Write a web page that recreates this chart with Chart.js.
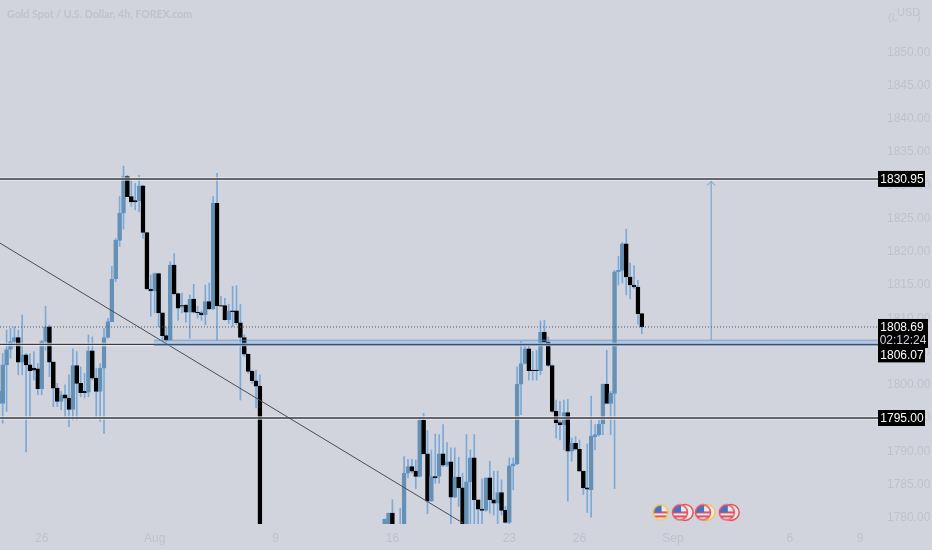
<!DOCTYPE html>
<html>
<head>
<meta charset="utf-8">
<title>Gold Spot / U.S. Dollar, 4h</title>
<script src="https://cdn.jsdelivr.net/npm/chart.js@4"></script>
<style>
    html, body { margin: 0; padding: 0; background: #d1d4dc; overflow: hidden; }
    canvas { display: block; }
</style>
</head>
<body>
<canvas id="goldChart" width="932" height="550"></canvas>
<script>
// candle values by 4h slot, slots 68-98 sit below the visible range
const opens = [
    1797.2, 1797.2, 1803, 1805.3, 1806.5, 1807.1, 1803.4, 1804.5, 1803, 1802.5,
    1802.4, 1799.4, 1806.5, 1808.7, 1803.4, 1799.5, 1797.5, 1798.5, 1798, 1796.3,
    1802.9, 1800.2, 1799, 1798.9, 1805.1, 1801, 1799, 1802.5, 1807.1, 1809.5,
    1815.9, 1821.7, 1825.8, 1831.3, 1828.3, 1827.7, 1827.7, 1829.9, 1822.9, 1814.4,
    1814.1, 1816.7, 1810.8, 1807.4, 1806.7, 1818, 1813.7, 1811.9, 1812, 1810.9,
    1812.9, 1810.9, 1810.8, 1810.5, 1812.5, 1811.4, 1827.3, 1811.9, 1811.9, 1809.8,
    1811.1, 1811.1, 1809.3, 1807.1, 1804.6, 1802, 1800.6, 1799.8,
    null, null, null, null, null, null, null, null, null, null,
    null, null, null, null, null, null, null, null, null, null,
    null, null, null, null, null, null, null, null, null, null, null,
    1778, 1778, 1780.7, null, 1777, 1778.5, 1786.7, 1787.7, 1787, 1786.2,
    1794.7, 1789.6, 1782.5, 1786.2, 1786.2, 1789.6, 1787.9, 1788.4, 1783.1, 1786.1,
    1784.5, 1778.5, 1785.4, 1789, 1782.7, 1781.3, 1781.1, 1786, 1782.7, 1782.2,
    1783.8, 1781.1, 1779.3, 1787.8, 1788.1, 1800.1, 1803.2, 1805.4, 1802.2, 1802.2,
    1802.1, 1807.9, 1806.4, 1802.9, 1796, 1794.3, 1794, 1795.8, 1790, 1791.2,
    1790.3, 1787, 1784.5, 1784.2, 1792.2, 1792.5, 1794.1, 1800.1, 1797.2, 1798.7,
    1817, 1817.2, 1821.2, 1816.2, 1815, 1814.7, 1810.7
];
const closes = [
    1799, 1803, 1805.3, 1806.5, 1807.1, 1803.4, 1804.5, 1803, 1802.1, 1802.2,
    1799.4, 1806.5, 1808.7, 1803.4, 1799.5, 1797.5, 1798.5, 1798, 1796.3, 1802.9,
    1800.2, 1798.8, 1798.8, 1805.1, 1801, 1799, 1802.5, 1807.1, 1809.5, 1815.9,
    1821.7, 1825.8, 1831.3, 1828.3, 1827.5, 1827.5, 1829.9, 1822.9, 1814.4, 1814.1,
    1816.7, 1810.8, 1807.4, 1806.7, 1818, 1813.7, 1811.5, 1811.8, 1810.9, 1812.9,
    1810.9, 1810.8, 1810.5, 1812.5, 1811.4, 1827.3, 1811.9, 1811.8, 1809.8, 1811.1,
    1811, 1809.3, 1807.1, 1804.6, 1802, 1800.6, 1799.8, 1772,
    null, null, null, null, null, null, null, null, null, null,
    null, null, null, null, null, null, null, null, null, null,
    null, null, null, null, null, null, null, null, null, null, null,
    1779.8, 1780.7, 1778, null, 1778, 1786.7, 1787.7, 1787, 1786.2, 1794.7,
    1789.6, 1782.5, 1786.2, 1786, 1789.6, 1787.9, 1788.4, 1783.1, 1786.1, 1784.5,
    1778, 1785.4, 1789, 1782.7, 1781.3, 1781.1, 1786, 1782.7, 1782.2, 1783.8,
    1781.1, 1779.3, 1787.8, 1788.1, 1800.1, 1803.2, 1805.4, 1802.1, 1802.1, 1802.1,
    1807.9, 1806.4, 1802.9, 1796, 1794.3, 1794, 1795.8, 1790, 1791.2, 1790.3,
    1787, 1784.5, 1784.3, 1792.3, 1792.5, 1794.1, 1800.1, 1797.2, 1798.7, 1817,
    1817.2, 1821.2, 1816.2, 1815, 1814.7, 1810.7, 1808.69
];
const highs = [
    1800, 1804.7, 1808.2, 1808.5, 1808.7, 1808.2, 1810.5, 1804.7, 1804.7, 1805,
    1803.2, 1806.7, 1811.8, 1809, 1803.5, 1800.2, 1799, 1800, 1801.5, 1805.4,
    1805, 1802.7, 1801.7, 1807.5, 1807.2, 1802.5, 1803.2, 1808.5, 1810, 1817.8,
    1822, 1828.3, 1832.9, 1831.5, 1831, 1830.3, 1831.5, 1830, 1822.9, 1816.5,
    1816.8, 1816.8, 1810.8, 1808.7, 1818.5, 1819.7, 1813.8, 1813.8, 1812.1, 1813.5,
    1815.1, 1811.8, 1811.1, 1815, 1815.3, 1828.3, 1831.8, 1813.3, 1813, 1812.1,
    1814.8, 1814.9, 1812.1, 1807.5, 1804.6, 1802.2, 1802.2, 1801.5,
    null, null, null, null, null, null, null, null, null, null,
    null, null, null, null, null, null, null, null, null, null,
    null, null, null, null, null, null, null, null, null, null, null,
    1779.8, 1780.7, 1782.7, null, 1781.4, 1789.2, 1788.8, 1788.8, 1788.7, 1795.2,
    1795.7, 1793.1, 1790.2, 1792.6, 1792.5, 1794, 1791.3, 1790.5, 1790.5, 1789.1,
    1786.7, 1792.5, 1790.2, 1792.5, 1782.7, 1785.8, 1786, 1788.5, 1787, 1787,
    1785.7, 1781.7, 1789, 1789, 1802.7, 1806.5, 1805.8, 1805.8, 1805, 1805.2,
    1809.6, 1809.7, 1807.2, 1803, 1797.7, 1797.5, 1797.7, 1797.8, 1792, 1792.2,
    1791.7, 1787, 1791.1, 1798.3, 1794, 1794.7, 1800.1, 1805.2, 1799, 1817.2,
    1819.3, 1821.4, 1823.4, 1818.3, 1817.9, 1815.7, 1810.7
];
const lows = [
    1796.2, 1794.2, 1796, 1804, 1805.7, 1801.5, 1801.5, 1789.9, 1795.2, 1800.7,
    1798.5, 1798.5, 1805.2, 1801.2, 1796.7, 1796.7, 1796.2, 1795.2, 1793.7, 1794.7,
    1794.7, 1798.2, 1798, 1798.2, 1800.7, 1795.2, 1794.5, 1792.7, 1807, 1809.5,
    1815.5, 1820.8, 1823.4, 1828.3, 1826.8, 1826.3, 1826, 1822, 1814.3, 1810.3,
    1810.8, 1808.7, 1806.7, 1806.5, 1806.7, 1813.5, 1809.7, 1810.8, 1809.4, 1807,
    1810.8, 1810, 1809.7, 1809, 1811.3, 1811.3, 1806.7, 1811.8, 1809.7, 1809.2,
    1808.7, 1809, 1797.7, 1804.2, 1801.7, 1800.2, 1796.5, 1771,
    null, null, null, null, null, null, null, null, null, null,
    null, null, null, null, null, null, null, null, null, null,
    null, null, null, null, null, null, null, null, null, null, null,
    1778, 1778, 1778, null, 1777, 1778, 1786, 1786.7, 1784.4, 1786.1,
    1789.6, 1780.6, 1782.5, 1785.2, 1785.2, 1787.7, 1787.7, 1778, 1783, 1781.7,
    1778, 1778, 1778, 1778, 1778, 1778, 1781, 1780.7, 1780.4, 1778,
    1780.4, 1779.2, 1778, 1784.2, 1788, 1795.5, 1803.1, 1800.7, 1800.7, 1800.7,
    1801.5, 1806.4, 1802.7, 1795.8, 1792, 1791.7, 1790.2, 1782.5, 1788.5, 1790.2,
    1787, 1783.5, 1780.8, 1780.1, 1790.2, 1792.3, 1792.5, 1797.2, 1792.5, 1784.4,
    1815, 1815.3, 1813.5, 1812.9, 1814.5, 1809.1, 1807.7
];

const xTickSlots = [11, 40, 71, 101, 131, 149, 173, 203, 221];
const xTickLabels = ['26', 'Aug', '9', '16', '23', '26', 'Sep', '6', '9'];
const yTickValues = [1780, 1785, 1790, 1795, 1800, 1805, 1810, 1815, 1820, 1825, 1830, 1835, 1840, 1845, 1850];

const levelPrices = [1830.95, 1806.07, 1795];
const lastPrice = 1808.69;
const bandTop = 1806.7;
const bandBottom = 1805.9;
const bandStartSlot = 39.8;
const trendSlots = [0.3, 119.1];
const trendPrices = [1821.3, 1779.2];
const arrowSlot = 182.8;
const arrowPrices = [1806.7, 1830.6];
const eventSlots = [169.8, 174.8, 180.7, 186.8];
const eventBehindSlots = [176.1, 181.7, 187.9];
const eventPrice = 1780.8;

const MIN_SLOT = 0.308;
const MAX_SLOT = 225.6;
const TEXT_FAINT = '#bfc2cc';
const NARROW = '"Liberation Sans Narrow", "Liberation Sans", sans-serif';

function isUp(i) {
    return closes[i] >= opens[i];
}

function rangeData(a, b) {
    const out = [];
    a.forEach((v, i) => {
        if (v !== null) out.push({ x: i, y: [v, b[i]], up: isUp(i) });
    });
    return out;
}

function lineData(slots, prices) {
    return slots.map((s, i) => ({ x: s, y: prices[i] }));
}

function makeFlag(ring) {
    const c = document.createElement('canvas');
    c.width = 18;
    c.height = 18;
    const g = c.getContext('2d');
    g.beginPath();
    g.arc(9, 9, 7.5, 0, Math.PI * 2);
    g.fillStyle = '#e9e9ee';
    g.fill();
    g.save();
    g.clip();
    g.fillStyle = '#e8505b';
    g.fillRect(0, 8, 18, 2);
    g.fillRect(0, 12, 18, 2);
    g.fillStyle = '#4a6fc4';
    g.fillRect(0, 2, 10, 7);
    g.restore();
    g.beginPath();
    g.arc(9, 9, 7.5, 0, Math.PI * 2);
    g.lineWidth = 1.5;
    g.strokeStyle = ring;
    g.stroke();
    return c;
}

function levelDatasets() {
    const sets = [];
    levelPrices.forEach(p => {
        const pts = lineData([MIN_SLOT, MAX_SLOT], [p, p]);
        sets.push({ type: 'line', data: pts, borderColor: 'rgba(240,242,246,0.75)', borderWidth: 3.5, pointRadius: 0, order: 4 });
        sets.push({ type: 'line', data: pts, borderColor: '#3a3a40', borderWidth: 1.4, pointRadius: 0, order: 2 });
    });
    return sets;
}

// price boxes, status text and the arrow head are not part of any axis
const overlayPlugin = {
    id: 'overlay',
    afterDraw(chart) {
        const { ctx } = chart;
        const x = chart.scales.x;
        const y = chart.scales.y;

        const ax = x.getPixelForValue(arrowSlot);
        const ay = y.getPixelForValue(arrowPrices[1]);
        ctx.save();
        ctx.strokeStyle = '#6a9ed6';
        ctx.lineWidth = 1;
        ctx.beginPath();
        ctx.moveTo(ax - 4, ay + 4);
        ctx.lineTo(ax, ay);
        ctx.lineTo(ax + 4, ay + 4);
        ctx.stroke();

        ctx.fillStyle = TEXT_FAINT;
        ctx.font = 'bold 10.6px Lato, sans-serif';
        ctx.textBaseline = 'middle';
        ctx.textAlign = 'left';
        ctx.fillText('Gold Spot / U.S. Dollar, 4h, FOREX.com', 7, 15);

        ctx.font = '11px ' + NARROW;
        ctx.fillText('(L', 888, 18);
        ctx.fillText('USD', 897, 13);
        ctx.fillText(')', 917, 18);

        const boxes = [
            { text: '1830.95', price: 1830.95, shift: 0, h: 16, w: 47 },
            { text: '1795.00', price: 1795, shift: 0, h: 16, w: 47 },
            { text: '1806.07', price: 1806.07, shift: 10.5, h: 15, w: 47 }
        ];
        ctx.textAlign = 'center';
        ctx.font = '12px ' + NARROW;
        const lx = chart.chartArea.right;
        boxes.forEach(b => {
            const py = y.getPixelForValue(b.price) + b.shift;
            ctx.fillStyle = '#000';
            ctx.fillRect(lx, py - b.h / 2, b.w, b.h);
            ctx.fillStyle = '#fff';
            ctx.fillText(b.text, lx + b.w / 2 + 0.5, py + 0.5);
        });

        const ly = y.getPixelForValue(lastPrice);
        ctx.fillStyle = '#000';
        ctx.fillRect(lx, ly - 8, 50, 29);
        ctx.fillStyle = '#fff';
        ctx.fillText('1808.69', lx + 24, ly + 0.5);
        ctx.fillStyle = '#d1d4dc';
        ctx.fillText('02:12:24', lx + 25, ly + 13.5);
        ctx.restore();
    }
};

const ctx = document.getElementById('goldChart').getContext('2d');
new Chart(ctx, {
    type: 'bar',
    plugins: [overlayPlugin],
    data: {
        datasets: [
            // translucent band sits on top of the candles
            {
                type: 'line',
                data: lineData([bandStartSlot, MAX_SLOT], [bandTop, bandTop]),
                borderColor: 'rgba(90,145,210,0.7)',
                borderWidth: 1,
                backgroundColor: 'rgba(90,145,210,0.22)',
                fill: '+1',
                pointRadius: 0,
                order: 1
            },
            {
                type: 'line',
                data: lineData([bandStartSlot, MAX_SLOT], [bandBottom, bandBottom]),
                borderColor: 'rgba(90,145,210,0.7)',
                borderWidth: 1,
                pointRadius: 0,
                order: 1
            },
            ...levelDatasets(),
            {
                type: 'line',
                data: lineData([MIN_SLOT, MAX_SLOT], [lastPrice, lastPrice]),
                borderColor: '#55585f',
                borderWidth: 1,
                borderDash: [1, 2],
                pointRadius: 0,
                order: 3
            },
            {
                type: 'line',
                data: lineData(trendSlots, trendPrices),
                borderColor: '#4a4d55',
                borderWidth: 1,
                pointRadius: 0,
                order: 3
            },
            {
                type: 'line',
                data: lineData([arrowSlot, arrowSlot], arrowPrices),
                borderColor: '#6a9ed6',
                borderWidth: 1,
                pointRadius: 0,
                order: 3
            },
            {
                type: 'line',
                data: lineData(eventBehindSlots, [eventPrice, eventPrice, eventPrice]),
                showLine: false,
                pointRadius: 8,
                pointBackgroundColor: '#e9e9ee',
                pointBorderColor: ['#e8505b', '#f2c94c', '#e8505b'],
                pointBorderWidth: 1.5,
                order: 1
            },
            {
                type: 'line',
                data: lineData(eventSlots, [eventPrice, eventPrice, eventPrice, eventPrice]),
                showLine: false,
                pointStyle: [makeFlag('#f2c94c'), makeFlag('#e8505b'), makeFlag('#e8505b'), makeFlag('#e8505b')],
                order: 0
            },
            {
                data: rangeData(lows, highs),
                backgroundColor: '#7ba9d8',
                barThickness: 1,
                grouped: false,
                order: 6
            },
            {
                data: rangeData(opens, closes),
                backgroundColor: c => (c.raw && c.raw.up) ? '#6b8fa8' : '#000000',
                borderColor: c => (c.raw && c.raw.up) ? '#5b95cc' : '#000000',
                borderWidth: 1,
                borderSkipped: false,
                barThickness: 4,
                grouped: false,
                order: 5
            }
        ]
    },
    options: {
        responsive: false,
        animation: false,
        events: [],
        layout: { padding: 0, autoPadding: false },
        plugins: {
            legend: { display: false },
            tooltip: { enabled: false }
        },
        scales: {
            x: {
                type: 'linear',
                offset: false,
                min: MIN_SLOT,
                max: MAX_SLOT,
                grid: { display: false, drawTicks: false },
                border: { display: false },
                afterBuildTicks: s => { s.ticks = xTickSlots.map(v => ({ value: v })); },
                afterFit: s => {
                    s.height = 26;
                    s.paddingLeft = 0;
                    s.paddingRight = 0;
                },
                ticks: {
                    autoSkip: false,
                    maxRotation: 0,
                    padding: 7,
                    color: TEXT_FAINT,
                    font: { family: NARROW, size: 12 },
                    callback: v => xTickLabels[xTickSlots.indexOf(v)]
                }
            },
            y: {
                position: 'right',
                min: 1779.06,
                max: 1857.86,
                grid: { display: false, drawTicks: false },
                border: { display: false },
                afterBuildTicks: s => { s.ticks = yTickValues.map(v => ({ value: v })); },
                afterFit: s => {
                    s.width = 54;
                    s.paddingTop = 0;
                    s.paddingBottom = 0;
                },
                ticks: {
                    autoSkip: false,
                    padding: 9,
                    color: TEXT_FAINT,
                    font: { family: NARROW, size: 12 },
                    callback: v => v.toFixed(2)
                }
            }
        }
    }
});
</script>
</body>
</html>
